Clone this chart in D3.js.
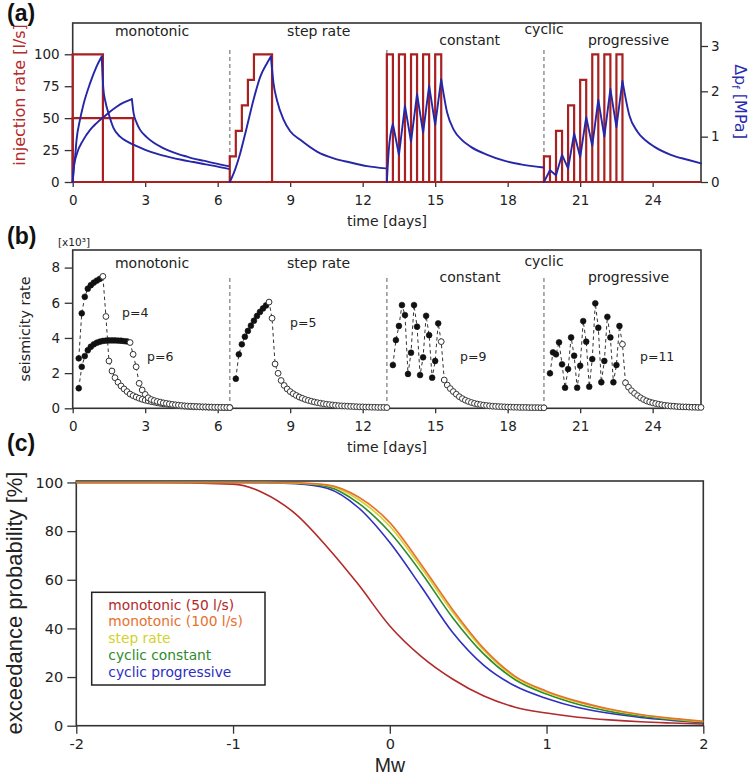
<!DOCTYPE html>
<html><head><meta charset="utf-8">
<script src="https://cdn.jsdelivr.net/npm/d3@7"></script>
<style>body{margin:0;background:#fff}svg{display:block}</style>
</head><body>
<svg id="chart" width="749" height="776"></svg>
<script>
// ================= DATA =================
// Panel (a): injection protocols, pulses as [start day, end day, rate l/s]
const injMono100 = [[0, 1.25, 100]];
const injMono50  = [[0, 2.5, 50]];
const injStep    = [[6.5,6.75,20],[6.75,7.0,40],[7.0,7.25,60],[7.25,7.5,80],[7.5,8.25,100]];
const injConst   = [[13.0,13.25,100],[13.5,13.75,100],[14.0,14.25,100],[14.5,14.75,100],[15.0,15.25,100]];
const injProg    = [[19.5,19.75,20],[20.0,20.25,40],[20.5,20.75,60],[21.0,21.25,80],[21.5,21.75,100],[22.0,22.25,100],[22.5,22.75,100]];

// Panel (a): pore-pressure change [day, MPa]
const presMono100 = [[0,0],[0.05,0.33],[0.1,0.56],[0.16,0.93],[0.3,1.37],[0.44,1.7],[0.72,2.18],[0.99,2.55],[1.2,2.77],[1.27,2.05],[1.35,1.78],[1.48,1.52],[1.68,1.2],[1.96,1.0],[2.3,0.88],[2.65,0.79],[3.0,0.71],[3.5,0.62],[4.0,0.55],[4.5,0.49],[5.0,0.44],[5.5,0.39],[6.0,0.34],[6.45,0.29]];
const presMono50  = [[0,0],[0.05,0.34],[0.16,0.6],[0.44,0.93],[0.72,1.15],[0.99,1.3],[1.27,1.43],[1.54,1.55],[1.82,1.66],[2.1,1.75],[2.45,1.83],[2.52,1.52],[2.65,1.3],[2.79,1.15],[3.06,0.99],[3.34,0.87],[3.7,0.76],[4.03,0.68],[4.4,0.61],[4.72,0.56],[5.05,0.51],[5.41,0.47],[5.9,0.41],[6.45,0.35]];
const presStep    = [[6.5,0],[6.66,0.19],[6.93,0.63],[7.21,1.22],[7.48,1.81],[7.76,2.32],[8.04,2.62],[8.2,2.77],[8.31,2.18],[8.45,1.81],[8.73,1.37],[9.0,1.12],[9.42,0.93],[10.11,0.67],[10.8,0.52],[11.49,0.43],[12.18,0.35],[12.95,0.3]];
const presConst   = [[13.0,0],[13.08,0.71],[13.25,1.28],[13.5,0.6],[13.75,1.68],[14.0,0.89],[14.25,1.94],[14.5,1.09],[14.75,2.12],[15.0,1.26],[15.25,2.27],[15.5,1.52],[15.77,1.15],[16.1,0.93],[16.46,0.78],[17.16,0.6],[17.85,0.47],[18.54,0.39],[19.48,0.32]];
const presProg    = [[19.5,0],[19.75,0.26],[20.0,0.15],[20.25,0.6],[20.5,0.3],[20.75,1.07],[21.0,0.55],[21.25,1.43],[21.5,0.8],[21.75,1.81],[22.0,1.0],[22.25,2.05],[22.5,1.21],[22.75,2.23],[23.03,1.48],[23.37,1.11],[23.7,0.92],[24.06,0.78],[24.75,0.6],[25.45,0.49],[26.0,0.41]];

const protocolStarts = [6.5, 13, 19.5];   // dashed separators
const timeTicks = [0,3,6,9,12,15,18,21,24];
const rateTicks = [0,25,50,75,100];
const presTicks = [0,1,2,3];

// Panel (b): seismicity rate [x10^3], sampled every 3 h starting 6 h after each protocol start
const sampleStep = 0.125, firstSample = 0.25;
const seisMono100 = [2.84,5.4,6.34,6.8,7.0,7.15,7.26,7.36,7.5,5.22,2.69,2.12,1.74,1.48,1.27,1.1,0.95,0.81,0.72,0.64,0.57,0.51,0.46,0.42,0.38,0.35,0.31,0.28,0.25,0.23,0.21,0.19,0.17,0.15,0.13,0.12,0.11,0.1,0.09,0.08,0.08,0.07,0.07,0.06,0.06,0.05,0.05,0.05,0.04,0.04,0.04];
const seisMono50  = [1.14,2.36,2.97,3.3,3.5,3.64,3.73,3.79,3.83,3.85,3.86,3.86,3.86,3.85,3.84,3.82,3.8,3.74,3.07,2.36,1.42,1.04,0.79,0.6,0.5,0.44,0.39,0.35,0.31,0.28,0.25,0.22,0.2,0.18,0.16,0.14,0.13,0.12,0.11,0.1,0.09,0.08,0.08,0.07,0.07,0.06,0.06,0.05,0.05,0.05,0.04];
const seisStep    = [1.68,3.07,3.64,4.07,4.4,4.7,4.98,5.25,5.48,5.68,5.85,6.04,5.12,2.52,1.99,1.58,1.3,1.1,0.95,0.83,0.73,0.64,0.57,0.5,0.45,0.4,0.36,0.32,0.29,0.26,0.23,0.21,0.19,0.17,0.15,0.14,0.13,0.12,0.11,0.1,0.09,0.08,0.08,0.07,0.07,0.06,0.06,0.05,0.05,0.05,0.04];
const seisConst   = [2.46,3.88,4.68,5.87,5.3,1.95,3.16,5.87,4.64,1.89,2.9,5.26,4.16,1.74,2.69,4.83,3.79,1.61,1.32,1.12,0.95,0.8,0.66,0.55,0.46,0.39,0.33,0.28,0.24,0.21,0.18,0.16,0.14,0.12,0.11,0.1,0.09,0.08,0.07,0.07,0.06,0.06,0.05,0.05,0.05,0.04,0.04,0.04,0.04,0.03,0.03];
const seisProg    = [1.99,3.18,3.07,3.75,2.5,1.17,2.23,4.03,2.99,1.17,2.42,4.96,3.79,1.23,2.8,5.97,4.58,1.48,2.69,5.2,4.03,1.48,2.46,4.68,3.64,1.45,1.2,1.0,0.85,0.72,0.6,0.5,0.42,0.36,0.31,0.27,0.23,0.2,0.17,0.15,0.13,0.12,0.1,0.09,0.08,0.08,0.07,0.06,0.06,0.05,0.05];
const seisStarts  = [0, 0, 6.5, 13, 19.5];
const seisFilled  = [8, 17, 11, 16, 24];   // samples during injection (filled markers)
const seisTicks   = [0,2,4,6,8];

// Panel (c): exceedance probability [%] vs Mw
const mw = [-2,-1.5,-1,-0.8,-0.6,-0.4,-0.2,0,0.2,0.4,0.6,0.8,1.0,1.2,1.4,1.6,1.8,2.0];
const exMono50   = [100,100,99.3,95.5,87,73.5,58,41,28.5,19.2,12.2,7.6,5.2,3.5,2.4,1.6,1.1,0.7];
const exMono100  = [100,100,100,100,99.9,99,94,83.5,66.3,47.8,31.7,20.3,14.2,10,6.9,4.6,3.0,1.8];
const exStep     = [100,100,100,100,99.8,98.8,93,82,65,46.7,30.9,19.8,13.8,9.6,6.6,4.4,2.8,1.7];
const exConst    = [100,100,100,100,99.7,98.3,91.5,79.5,63,44.5,29.4,18.9,13.0,8.8,5.9,3.9,2.5,1.4];
const exProg     = [100,100,100,99.9,99.5,97.6,89.6,75.3,57.2,38.4,24.8,16.3,11.2,7.5,5.1,3.4,2.2,1.2];
const legendNames = ["monotonic (50 l/s)","monotonic (100 l/s)","step rate","cyclic constant","cyclic progressive"];
const mwTicks = [-2,-1,0,1,2];
const probTicks = [0,20,40,60,80,100];

// ================= DRAWING =================
const FM = "'DejaVu Sans', sans-serif";
const FC = "'Liberation Sans', Arial, sans-serif";
const RED = "#a82020", BLUE = "#2626a8", GRID = "#9a9a9a";
const svg = d3.select("#chart");
svg.append("rect").attr("width",749).attr("height",776).attr("fill","#fff");
const plain = d => String(d);

function styleAxis(g, size, fam){
  g.select(".domain").remove();
  g.attr("font-family", fam).attr("font-size", size);
  g.selectAll(".tick line").attr("stroke","#333").attr("stroke-width",1.3);
  g.selectAll(".tick text").attr("fill","#222");
}
function frame(g, P){
  g.append("rect").attr("x",P.l).attr("y",P.t).attr("width",P.r-P.l).attr("height",P.b-P.t)
    .attr("fill","none").attr("stroke","#333").attr("stroke-width",1.6);
}
function text(g, x, y, s, opt={}){
  const t = g.append("text").attr("x",x).attr("y",y).text(s)
    .attr("font-family", opt.fam||FM).attr("font-size", opt.size||14)
    .attr("fill", opt.fill||"#222").attr("text-anchor", opt.anchor||"middle");
  if(opt.weight) t.attr("font-weight", opt.weight);
  if(opt.rot) t.attr("transform", `rotate(${opt.rot},${x},${y})`);
  return t;
}
// polyline smoothed within monotone stretches, keeping cusps at extrema
function sharpCurve(pts, x, y){
  const segs = []; let cur = [pts[0]];
  for(let i=1;i<pts.length;i++){
    cur.push(pts[i]);
    if(i<pts.length-1){
      const d1 = pts[i][1]-pts[i-1][1], d2 = pts[i+1][1]-pts[i][1];
      if(d1*d2 < 0){ segs.push(cur); cur=[pts[i]]; }
    }
  }
  segs.push(cur);
  const line = d3.line().x(d=>x(d[0])).y(d=>y(d[1])).curve(d3.curveMonotoneX);
  return segs.map(s=>line(s)).join("");
}
function injectionPoints(pulses){
  const pts = [[pulses[0][0],0]]; let prevEnd = pulses[0][0];
  pulses.forEach(([s,e,q])=>{
    if(s!==prevEnd){ pts.push([prevEnd,0]); pts.push([s,0]); }
    pts.push([s,q]); pts.push([e,q]); prevEnd=e;
  });
  pts.push([prevEnd,0]);
  return pts;
}

// ---------- Panel (a)
const A = {l:72.7, r:701, t:23, b:182};
const xA = d3.scaleLinear().domain([0,26]).range([A.l,A.r]);
const yQ = d3.scaleLinear().domain([0,124.5]).range([A.b,A.t]);
const yP = d3.scaleLinear().domain([0,3.507]).range([A.b,A.t]);
const gA = svg.append("g");
frame(gA, A);
protocolStarts.forEach(s=>gA.append("line").attr("x1",xA(s)).attr("x2",xA(s)).attr("y1",A.t+27).attr("y2",A.b)
  .attr("stroke",GRID).attr("stroke-width",1.6).attr("stroke-dasharray","4,3"));
styleAxis(gA.append("g").attr("transform",`translate(0,${A.b})`).call(d3.axisBottom(xA).tickValues(timeTicks).tickFormat(plain).tickSize(5).tickPadding(8)), 13.5, FM);
styleAxis(gA.append("g").attr("transform",`translate(${A.l},0)`).call(d3.axisLeft(yQ).tickValues(rateTicks).tickFormat(plain).tickSize(8).tickPadding(5)), 13.5, FM);
styleAxis(gA.append("g").attr("transform",`translate(${A.r},0)`).call(d3.axisRight(yP).tickValues(presTicks).tickFormat(plain).tickSize(7).tickPadding(3)), 13.5, FM);
// injection rate
const lineQ = d3.line().x(d=>xA(d[0])).y(d=>yQ(d[1]));
gA.append("path").attr("d", lineQ([[0,0],[26,0]])).attr("stroke",RED).attr("stroke-width",2.2).attr("fill","none");
[injMono50, injMono100, injStep, injConst, injProg].forEach(p=>{
  gA.append("path").attr("d", lineQ(injectionPoints(p))).attr("fill","none").attr("stroke",RED)
    .attr("stroke-width",2.2).attr("stroke-linejoin","miter");
});
// pressure
[presMono100, presMono50, presStep, presConst, presProg].forEach(p=>{
  gA.append("path").attr("d", sharpCurve(p, xA, yP)).attr("fill","none").attr("stroke",BLUE)
    .attr("stroke-width",1.9).attr("stroke-linecap","round").attr("stroke-linejoin","round");
});
text(gA, 152, 36, "monotonic");
text(gA, 318.7, 36, "step rate");
text(gA, 544, 33.5, "cyclic");
text(gA, 469.7, 44.5, "constant");
text(gA, 628.5, 44.5, "progressive");
text(gA, 387, 226, "time [days]");
text(gA, 24.5, 95, "injection rate [l/s]", {size:16, fill:"#b52a2a", rot:-90});
const dp = gA.append("text").attr("x",734.5).attr("y",101.5).attr("text-anchor","middle")
  .attr("font-family",FM).attr("font-size",16).attr("fill","#2a2ab0").attr("transform","rotate(90,734.5,101.5)");
dp.append("tspan").text("Δp");
dp.append("tspan").attr("font-size",10).attr("dy",3).text("f");
dp.append("tspan").attr("dy",-3).text(" [MPa]");
text(gA, 7, 20.5, "(a)", {fam:FC, size:23, weight:"bold", anchor:"start", fill:"#111"});

// ---------- Panel (b)
const B = {l:72.7, r:701, t:250, b:408.3};
const xB = d3.scaleLinear().domain([0,26]).range([B.l,B.r]);
const yB = d3.scaleLinear().domain([0,9]).range([B.b,B.t]);
const gB = svg.append("g");
frame(gB, B);
protocolStarts.forEach(s=>gB.append("line").attr("x1",xB(s)).attr("x2",xB(s)).attr("y1",B.t+28).attr("y2",B.b)
  .attr("stroke",GRID).attr("stroke-width",1.6).attr("stroke-dasharray","4,3"));
styleAxis(gB.append("g").attr("transform",`translate(0,${B.b})`).call(d3.axisBottom(xB).tickValues(timeTicks).tickFormat(plain).tickSize(5).tickPadding(8)), 13.5, FM);
styleAxis(gB.append("g").attr("transform",`translate(${B.l},0)`).call(d3.axisLeft(yB).tickValues(seisTicks).tickFormat(plain).tickSize(8).tickPadding(4.5)), 13.5, FM);
const seisAll = [seisMono100, seisMono50, seisStep, seisConst, seisProg];
const seisPts = seisAll.map((vals,k)=>vals.map((v,i)=>({t: seisStarts[k]+firstSample+i*sampleStep, r:v, filled: i<seisFilled[k]})));
const lineB = d3.line().x(d=>xB(d.t)).y(d=>yB(d.r));
seisPts.forEach(pts=>gB.append("path").attr("d",lineB(pts)).attr("fill","none").attr("stroke","#333")
  .attr("stroke-width",1).attr("stroke-dasharray","3.5,3"));
seisPts.forEach(pts=>{
  gB.selectAll(null).data(pts).enter().append("circle")
    .attr("cx",d=>xB(d.t)).attr("cy",d=>yB(d.r)).attr("r",2.9)
    .attr("fill",d=>d.filled?"#111":"#fff").attr("stroke",d=>d.filled?"#111":"#333").attr("stroke-width",d=>d.filled?0.6:1);
});
text(gB, 152, 268.3, "monotonic");
text(gB, 318.5, 268.3, "step rate");
text(gB, 544, 266, "cyclic");
text(gB, 470, 281.5, "constant");
text(gB, 628.5, 281.5, "progressive");
text(gB, 122, 317, "p=4", {size:12.5, anchor:"start"});
text(gB, 147, 360.5, "p=6", {size:12.5, anchor:"start"});
text(gB, 290, 327, "p=5", {size:12.5, anchor:"start"});
text(gB, 460, 360.5, "p=9", {size:12.5, anchor:"start"});
text(gB, 640, 360.5, "p=11", {size:12.5, anchor:"start"});
text(gB, 387, 452, "time [days]");
text(gB, 30, 329, "seismicity rate", {size:14.3, rot:-90});
text(gB, 58, 246, "[x10³]", {size:10.5, anchor:"start"});
text(gB, 7, 243.5, "(b)", {fam:FC, size:23, weight:"bold", anchor:"start", fill:"#111"});

// ---------- Panel (c)
const C = {l:76.3, r:703.3, t:481, b:725.7};
const xC = d3.scaleLinear().domain([-2,2]).range([C.l,C.r]);
const yC = d3.scaleLinear().domain([0,100.6]).range([C.b,C.t]);
const gC = svg.append("g");
frame(gC, C);
styleAxis(gC.append("g").attr("transform",`translate(0,${C.b})`).call(d3.axisBottom(xC).tickValues(mwTicks).tickFormat(plain).tickSize(8).tickPadding(5)), 14.5, FM);
styleAxis(gC.append("g").attr("transform",`translate(${C.l},0)`).call(d3.axisLeft(yC).tickValues(probTicks).tickFormat(plain).tickSize(9).tickPadding(4)), 14.5, FM);
const exSeries = [exMono50, exMono100, exStep, exConst, exProg];
const exColors = ["#b22a2a","#e8702e","#d2d22a","#2e8b2e","#2e2ebf"];
const lineC = d3.line().x(d=>xC(d[0])).y(d=>yC(d[1])).curve(d3.curveMonotoneX);
[0,4,3,2,1].forEach(k=>{
  gC.append("path").attr("d", lineC(mw.map((m,i)=>[m, exSeries[k][i]]))).attr("fill","none")
    .attr("stroke",exColors[k]).attr("stroke-width",1.6);
});
gC.append("rect").attr("x",91.7).attr("y",592.3).attr("width",173.3).attr("height",92.7)
  .attr("fill","#fff").attr("stroke","#222").attr("stroke-width",1.5);
legendNames.forEach((n,i)=>text(gC, 108.3, 609.5+16.9*i, n, {size:13.8, anchor:"start", fill:exColors[i]}));
text(gC, 390, 771.5, "Mw", {fam:FC, size:19.5});
text(gC, 21.5, 603, "exceedance probability [%]", {fam:FC, size:22, rot:-90});
text(gC, 7, 450.5, "(c)", {fam:FC, size:23, weight:"bold", anchor:"start", fill:"#111"});
</script>
</body></html>
